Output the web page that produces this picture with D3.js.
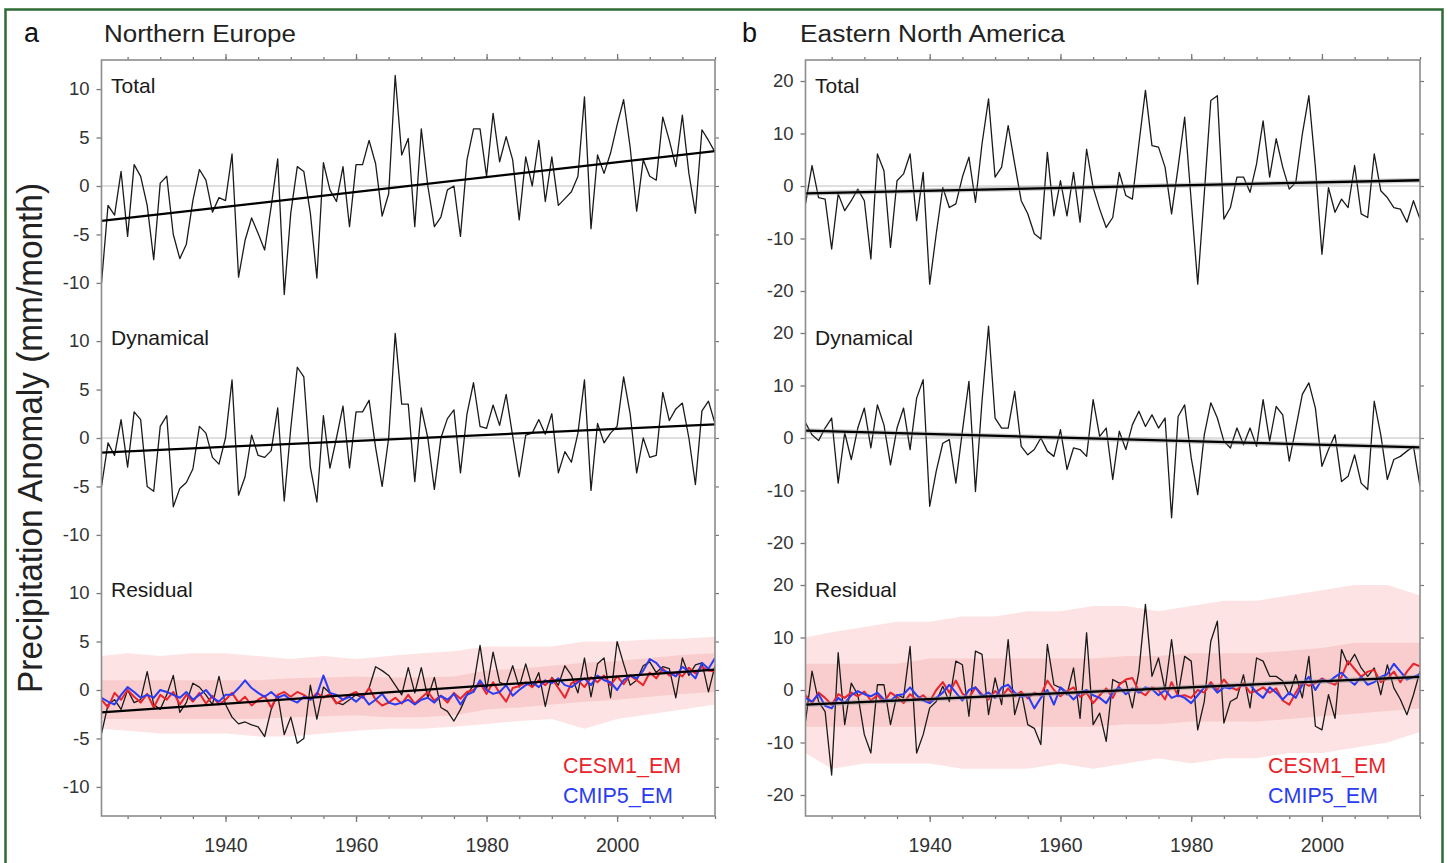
<!DOCTYPE html>
<html><head><meta charset="utf-8">
<script src="https://cdnjs.cloudflare.com/ajax/libs/d3/7.8.5/d3.min.js"></script>
<style>
body{margin:0;background:#fff}
svg{display:block}
text{font-family:"Liberation Sans",Arial,Helvetica,sans-serif}
</style>
</head><body>
<svg id="c" width="1448" height="863"></svg>
<script>
// ---------- DATA ----------
const years = d3.range(1921, 2016);
const xMajorTicks = [1940, 1960, 1980, 2000];
const xMinorTicks = [1925,1930,1935,1940,1945,1950,1955,1960,1965,1970,1975,1980,1985,1990,1995,2000,2005,2010,2015];
const neYTicks = [-10, -5, 0, 5, 10];
const enaYTicks = [-20, -10, 0, 10, 20];
const subLabels = ["Total", "Dynamical", "Residual"];
const trendYears = [1921, 2015];
const envYears = [1921,1925,1930,1935,1940,1945,1950,1955,1960,1965,1970,1975,1980,1985,1990,1995,2000,2005,2010,2015];

// Northern Europe
const neTotal = [
 -10,-2,-3,1.5,-5.2,2.2,1,-2,-7.6,0.3,
 1,-5,-7.5,-6,-1.5,1.7,0.6,-2.7,-1.2,-1.5,
 3.3,-9.4,-5.6,-3.3,-4.9,-6.6,-2.1,2.8,-11.2,-2.8,
 2,1.5,-2.8,-9.5,2.4,-0.4,-1.6,2,-4.2,2.2,
 2.2,4.7,2.3,-3.1,-0.8,11.4,3.2,4.9,-4.2,5.9,
 0,-4.2,-3.2,-0.4,0,-5.2,2.7,5.9,5.9,1,
 7.5,2.5,5.1,2.7,-3.5,3,0,4.7,-1.6,3,
 -2,-1.3,-0.6,1,9.2,-4.4,3.2,1.3,3.4,6.3,
 8.9,4,-2.6,2.7,1,0.6,7.1,4.7,2,7.3,
 1.3,-2.8,5.8,4.7,3.5];
const neDyn = [
 -5,-0.5,-1.8,1.9,-3,2.7,1.9,-5,-5.5,1.2,
 2.3,-7.1,-5.2,-4.6,-3.2,1.2,0.5,-2,-2.7,0,
 6,-5.9,-4,0.3,-1.8,-2,-1.3,3.1,-6.5,1,
 7.3,6.3,-3,-6.6,2.3,-3.1,0,3.3,-3.1,2.7,
 2.7,3.9,-1,-5,0,10.8,3.5,3.5,-4.5,3.1,
 0,-5.3,0,2,2.9,-3.6,2.5,5.7,1.2,1,
 3.4,1.3,4.5,0.2,-4,0.3,0.5,1.9,0.4,2.5,
 -3.6,-1.4,-2.5,0.5,6,-5.4,1.5,-0.5,0.5,1.2,
 6.3,2.5,-3.6,0,-2,-1.8,4.7,1.8,3,3.6,
 0,-4.8,2.8,3.8,1.5];
const neRes = [
 -4.5,-1.5,-1,-2,0,-1.3,-1,1.9,-1.5,-2,
 -0.5,1.5,-2.3,-1.3,0.7,0.3,-0.5,-1.5,1.4,-1.5,
 -2.8,-3.5,-3.3,-3.6,-3.8,-4.8,-2,-0.5,-4.6,-2.8,
 -5.5,-5,0.5,-3,0.3,-0.3,-1.3,-1.5,-1,-0.5,
 -0.8,0.2,2.4,2,1.5,0.5,-0.5,2.3,-0.3,2.3,
 -0.8,1.3,-1.8,-2.2,-3.2,-2,-0.5,0.5,4.6,0,
 3.9,0.8,0.5,2.5,0.3,2.7,0.3,1.8,-1.7,1.3,
 0.5,2.5,1.5,-0.3,3.3,-0.7,2.7,3.3,-0.8,5,
 2.7,0.5,1,2.5,2.9,1.8,2.4,2.2,-0.8,3.3,
 1.5,2.6,2.8,-0.2,2.5];
const neCesm = [
 -1,-1.8,-0.3,-1,0,-0.7,-1.3,-0.4,-1.8,-0.5,
 -1,-0.2,-1.5,-0.5,-1.2,-0.3,-1.4,-0.6,-1.5,-1,
 -0.3,-1.3,-0.7,-1.6,-1,-0.6,-1.8,-0.5,-0.2,-0.7,
 -0.2,-0.5,-1,-0.3,-0.8,-0.4,-1.4,-1,-0.5,-0.2,
 -0.8,0.2,-1,-1.6,-1.3,-0.8,-1.4,-0.5,-1.4,-0.8,
 -0.2,-1.1,-0.6,-1.3,-0.3,-0.9,-0.2,0,0.7,-0.4,
 0.8,-0.3,-1.2,0.2,0.4,0.8,0.3,1,0.5,1.2,
 0.2,-0.8,0.7,1,0.3,1.3,0.8,1.5,0.5,1.4,
 0.6,1.5,1,0.5,1.8,1.2,2.2,1.5,1.8,1.4,
 2.3,1.7,2.4,2,1.9];
const neCmip = [
 -0.8,-1.2,-1.5,-0.5,0.3,-0.2,-0.8,-0.5,-0.8,0,
 -0.2,-0.5,-0.8,-0.2,-1,-0.5,0,-0.8,-1.2,-0.5,
 -0.5,0.2,1,0.2,-0.3,-0.7,-0.2,-0.8,-0.5,-1,
 -1.3,-0.7,-1,-0.5,1.5,-0.3,-0.5,-1,-0.7,-1.2,
 -0.6,-1.5,-1,-0.4,-1.3,-1.5,-1.3,-1,-1.5,-1,
 -0.8,-1.3,-0.6,-1,-0.4,-1.5,-0.5,-0.2,1,0,
 -0.4,-0.2,0.5,-0.6,0,0.5,0.8,0.3,1,0.7,
 1.2,0.5,0.3,0.8,1.2,0.5,1.5,1,0.8,0,
 1,1.5,1.2,2,3.2,2.8,2,1.8,1.4,2.4,
 1.9,1.2,2.8,2.2,3.3];
const neTrendTotal = [-3.6, 3.6];
const neTrendDyn = [-1.5, 1.4];
const neTrendRes = [-2.3, 2.1];
const neEnvHi = [3.5,3.8,3.5,3.8,3.8,3.5,3.2,3.5,3.2,3.5,3.8,4,4.5,4.5,4.5,5,5,5.2,5.3,5.5];
const neEnvLo = [-4,-4.2,-4.5,-4.5,-4.5,-4.8,-4.8,-4.5,-4.2,-4,-4,-3.8,-3.5,-3.2,-3,-4,-3,-2.5,-2,-1.5];
const neCoreHi = [1,1,1,1,1,1,1.2,1.3,1.4,1.3,1.3,1.4,2,2.2,2.5,2.8,3,3.3,3.6,3.8];
const neCoreLo = [-3,-3,-3,-3,-3,-3,-2.8,-2.7,-2.6,-2.8,-2.8,-2.6,-2,-1.8,-1.5,-1.2,-1,-0.7,-0.4,-0.2];

// Eastern North America
const enaTotal = [
 -3.4,3.9,-2.2,-2.5,-12,-1.5,-4.7,-2.8,-0.6,-2.8,
 -13.9,6.1,2.9,-11.7,1,2.3,6.1,-6.6,2.6,-18.7,
 -9.1,-0.3,-4.1,-3.4,1.7,5.5,-3.1,8,16.6,1.7,
 3.6,11.5,4.2,-2.8,-5.3,-9.1,-10.1,6.4,-5.7,1,
 -5.7,2.6,-6.9,7,-0.3,-4.4,-7.9,-6,2.6,-1.8,
 -2.5,8,18.2,7.7,7.4,3.6,-5.3,3.6,13.1,-2.8,
 -18.7,-1.5,16.3,17.2,-6.3,-4.1,1.7,1.7,-1.2,4.2,
 12.4,1.7,9,3.6,-0.6,0.7,9.9,17.2,3.6,-13,
 -0.3,-5,-2.5,-4.1,3.9,-5.3,-6,6.1,-0.9,-2.2,
 -4.1,-4.4,-6.9,-2.8,-6.3];
const enaDyn = [
 2.9,0.6,-0.5,1.9,3.8,-8.6,1,-4.1,1.9,5.7,
 -1.9,6.3,2.5,-5.1,1.9,5.7,-2.2,7.6,11.1,-13,
 -6.3,-1,-0.3,-8.6,1.3,10.8,-10.2,7,21.3,3.8,
 1.9,1.9,8.9,-1.6,-3.2,-2.2,0,-2.5,-3.5,1.6,
 -6,-1.9,-2.2,-3.5,7.3,0.3,1.9,-7.9,1.3,-2.2,
 2.5,5.1,2.2,4.4,1.9,3.8,-15.2,4.1,6.3,-3.8,
 -10.8,0.6,6.7,3.8,-0.6,-1.9,1.9,-1.3,1.9,-1.6,
 7.3,-0.6,6,4.4,-4.4,1.9,8.3,10.5,5.7,-5.4,
 -2.2,0.6,-8.3,-7.3,-3.2,-8.6,-9.8,7,0.6,-7.9,
 -4.1,-3.5,-2.5,-1.6,-9.2];
const enaRes = [
 -6,3.6,-2.2,-4.1,-16.2,7.1,-6.6,1.3,-0.9,-8.5,
 -12,1,1,-6.6,-0.9,-1.5,8.3,-12,-8.5,-3.4,
 -2.2,0.7,-2.2,5.5,4.8,-5,7.4,6.8,-4.7,2.3,
 -2.8,9.6,-4.7,-0.3,-6.6,-7.3,-10.4,8.7,1,0.4,
 -0.9,4.2,-5.4,10.9,-6.6,-4.4,-9.8,2,1.3,1.7,
 -3.4,3.6,16.3,2.6,6.1,0,9.6,-0.9,6.4,5.5,
 -7.6,-2.2,9.3,13.1,-6.3,-2.2,-1.5,2.9,-3.4,6.1,
 5.5,2.6,2.6,1.7,-0.9,2.9,-1.5,6.4,-6.9,-7.6,
 -0.9,-5.4,7.7,4.8,6.8,4.2,2.6,4.2,-0.9,4.8,
 0.4,-1.8,-4.7,-0.9,3.6];
const enaCesm = [
 -1,-2.5,-0.5,-1.5,-2.8,-0.8,-1.5,-0.5,-1.2,-0.3,
 -2,-1,-2.3,-0.5,-1.3,-2.5,-0.8,-1.8,-1,-2.2,
 0,1.5,-0.5,1.8,-0.7,-1.5,0.5,-0.8,-1.8,-0.2,
 -1.3,0.3,-1.2,-0.3,-1.6,-0.5,-1,1.8,0,-1.2,
 -0.2,0.5,-1.3,-0.5,-2.5,-1,0.3,-1.5,1,2,
 2.3,-0.2,-1,0.5,0,-1.8,1.5,-1.2,-1,-1.5,
 0,-0.5,1.5,0,2,0.5,0,1.3,-0.5,-0.2,
 0.5,-0.5,0.3,-2,-2.8,-0.5,1.5,0.8,1.3,2.2,
 1.5,1,2.5,5.5,4,2.5,3.5,3.8,1.5,2.2,
 3.5,1.5,3.5,5,4.5];
const enaCmip = [
 -1.5,-2.2,-0.8,-3,-3.5,-1.5,-2.5,-1,-0.2,-0.8,
 -1.2,-0.5,-1.8,-2,-1,-0.8,0.5,-1,-2,-2.5,
 -1.5,-0.5,1,-0.5,-2,0,0.5,-1.2,-0.5,-1.5,
 0.5,1,-0.5,-1.3,-1,-3.5,-1.5,0,-2.8,0.5,
 -0.5,-1.8,-0.5,0,-1,-1.5,-2.5,-0.5,0.5,-0.8,
 0.3,-0.5,0.5,0.2,-1,0,-1.5,-1,-1.5,-2.5,
 -1,0.5,1,-0.5,0.5,0.3,1,0.8,1,-0.5,
 -1.5,0.5,-0.5,-1.8,-0.5,-1.5,1,2.5,0,2,
 1.5,2.5,3.3,2,1,2.5,1,1.5,2.5,3,
 5,3.5,2,2.5,3];
const enaTrendTotal = [-1.4, 1.1];
const enaTrendDyn = [1.4, -1.8];
const enaTrendRes = [-2.8, 2.5];
const enaEnvHi = [10,11,12,13,13,14,14,15,15,16,16,15,16,17,17,18,19,20,20,18];
const enaEnvLo = [-12,-15,-14,-14,-14,-15,-15,-15,-14,-15,-14,-13,-14,-13,-13,-12,-12,-11,-10,-8];
const enaCoreHi = [5,5,5,5,6,6,6,6,6,6,6.5,6.5,7,7,7,7.5,8,9,9,9];
const enaCoreLo = [-7,-7,-7,-7,-7,-7,-7,-7,-7,-7,-6.5,-6.5,-6,-6,-6,-5.5,-5,-4.5,-4,-3.5];

// ---------- LAYOUT / STYLE ----------
const TOP = 60, SUBH = 252, BOTTOM = TOP + 3 * SUBH;
const C = {frame:"#8c8c8c", tick:"#7a7a7a", label:"#333", obs:"#1a1a1a", trend:"#000",
           red:"#e8242c", blue:"#2a3cf0", zero:"#d4d4d4", env:"#fde3e3", core:"#f9cdcd"};

const panels = [
  {key:"ne", x0:101.5, x1:715, letter:"a", lx:24, title:"Northern Europe", tx:104, tl:192,
   dom:13, yt:neYTicks, obs:[neTotal,neDyn,neRes], trends:[neTrendTotal,neTrendDyn,neTrendRes],
   cesm:neCesm, cmip:neCmip, env:[neEnvHi,neEnvLo], core:[neCoreHi,neCoreLo], halo:false},
  {key:"ena", x0:805.5, x1:1420, letter:"b", lx:742, title:"Eastern North America", tx:800, tl:265,
   dom:24, yt:enaYTicks, obs:[enaTotal,enaDyn,enaRes], trends:[enaTrendTotal,enaTrendDyn,enaTrendRes],
   cesm:enaCesm, cmip:enaCmip, env:[enaEnvHi,enaEnvLo], core:[enaCoreHi,enaCoreLo], halo:true}
];

const svg = d3.select("#c");
svg.append("rect").attr("width",1448).attr("height",863).attr("fill","#fff");
// outer green border
svg.append("rect").attr("x",5.5).attr("y",9.5).attr("width",1437).attr("height",900)
  .attr("fill","none").attr("stroke","#2f6b34").attr("stroke-width",2.5);

// y axis title
svg.append("text").attr("transform","translate(42,438) scale(1.12,1) rotate(-90)")
  .attr("text-anchor","middle").attr("font-size",32).attr("fill","#222")
  .attr("textLength",510).attr("lengthAdjust","spacingAndGlyphs")
  .text("Precipitation Anomaly (mm/month)");

const hyphenFmt = d => String(d);  // plain hyphen-minus like the original

panels.forEach((p, pi) => {
  const g = svg.append("g");
  const x = d3.scaleLinear().domain([1921, 2015]).range([p.x0, p.x1]);

  const clipId = "clip-" + p.key;
  svg.append("clipPath").attr("id", clipId).append("rect")
    .attr("x", p.x0).attr("y", TOP).attr("width", p.x1 - p.x0).attr("height", BOTTOM - TOP);
  const plot = g.append("g").attr("clip-path", `url(#${clipId})`);

  // titles
  g.append("text").attr("x", p.lx).attr("y", 42).attr("font-size", 27).attr("fill","#111").text(p.letter);
  g.append("text").attr("x", p.tx).attr("y", 42).attr("font-size", 23).attr("fill","#222")
    .attr("textLength", p.tl).attr("lengthAdjust","spacingAndGlyphs").text(p.title);

  for (let s = 0; s < 3; s++) {
    const t0 = TOP + s * SUBH;
    const y = d3.scaleLinear().domain([-p.dom, p.dom]).range([t0 + SUBH, t0]);

    // left axis with labels
    g.append("g").attr("transform", `translate(${p.x0},0)`)
      .call(d3.axisLeft(y).tickValues(p.yt).tickSize(5).tickPadding(7).tickFormat(hyphenFmt))
      .call(a => { a.select(".domain").remove();
        a.selectAll("line").attr("stroke", C.tick).attr("stroke-width",1.3);
        a.selectAll("text").attr("font-size",18.5).attr("fill",C.label).attr("font-family",null); });
    // right axis ticks
    g.append("g").attr("transform", `translate(${p.x1},0)`)
      .call(d3.axisRight(y).tickValues(p.yt).tickSize(4).tickFormat(""))
      .call(a => { a.select(".domain").remove(); a.selectAll("line").attr("stroke", C.tick).attr("stroke-width",1.2); });

    // zero line
    plot.append("line").attr("x1", p.x0).attr("x2", p.x1).attr("y1", y(0)).attr("y2", y(0))
      .attr("stroke", C.zero).attr("stroke-width", 1.6);

    const line = d3.line().x((d, i) => x(years[i])).y(d => y(d));

    if (s === 2) {
      const area = d3.area().x((d, i) => x(envYears[i])).y0(d => y(d[1])).y1(d => y(d[0]));
      const envData = p.env[0].map((v, i) => [v, p.env[1][i]]);
      const coreData = p.core[0].map((v, i) => [v, p.core[1][i]]);
      plot.append("path").attr("d", area(envData)).attr("fill", C.env);
      plot.append("path").attr("d", area(coreData)).attr("fill", C.core);
    }

    // observed
    plot.append("path").attr("d", line(p.obs[s])).attr("fill","none")
      .attr("stroke", C.obs).attr("stroke-width", 1.3).attr("stroke-linejoin","round");

    if (s === 2) {
      plot.append("path").attr("d", line(p.cesm)).attr("fill","none")
        .attr("stroke", C.red).attr("stroke-width", 2).attr("stroke-linejoin","round");
      plot.append("path").attr("d", line(p.cmip)).attr("fill","none")
        .attr("stroke", C.blue).attr("stroke-width", 2).attr("stroke-linejoin","round");
    }

    // trend
    const tline = d3.line().x((d, i) => x(trendYears[i])).y(d => y(d));
    if (p.halo) {
      plot.append("path").attr("d", tline(p.trends[s])).attr("fill","none")
        .attr("stroke", "#9a9a9a").attr("stroke-width", 5).attr("opacity", 0.45);
    }
    plot.append("path").attr("d", tline(p.trends[s])).attr("fill","none")
      .attr("stroke", C.trend).attr("stroke-width", 2.3);

    // sub-panel label
    g.append("text").attr("x", p.x0 + 9.5).attr("y", t0 + 33).attr("font-size", 21)
      .attr("fill", "#1a1a1a").text(subLabels[s]);
  }

  // legend
  g.append("text").attr("x", p.x1 - 152).attr("y", 773).attr("font-size", 21.5).attr("fill", C.red).text("CESM1_EM");
  g.append("text").attr("x", p.x1 - 152).attr("y", 803).attr("font-size", 21.5).attr("fill", C.blue).text("CMIP5_EM");

  // x axes (bottom with labels, top ticks only)
  const styleX = a => { a.select(".domain").remove();
    a.selectAll("line").attr("stroke", C.tick).attr("stroke-width",1.3);
    a.selectAll("text").attr("font-size",19.5).attr("fill",C.label).attr("font-family",null); };
  g.append("g").attr("transform", `translate(0,${BOTTOM})`)
    .call(d3.axisBottom(x).tickValues(xMinorTicks).tickSize(3).tickFormat("")).call(styleX);
  g.append("g").attr("transform", `translate(0,${BOTTOM})`)
    .call(d3.axisBottom(x).tickValues(xMajorTicks).tickSize(6).tickPadding(16).tickFormat(hyphenFmt)).call(styleX);
  g.append("g").attr("transform", `translate(0,${TOP})`)
    .call(d3.axisTop(x).tickValues(xMinorTicks).tickSize(3).tickFormat("")).call(styleX);
  g.append("g").attr("transform", `translate(0,${TOP})`)
    .call(d3.axisTop(x).tickValues(xMajorTicks).tickSize(6).tickFormat("")).call(styleX);

  // frame
  g.append("rect").attr("x", p.x0).attr("y", TOP).attr("width", p.x1 - p.x0).attr("height", BOTTOM - TOP)
    .attr("fill","none").attr("stroke", C.frame).attr("stroke-width", 1.6);
});
</script>
</body></html>
